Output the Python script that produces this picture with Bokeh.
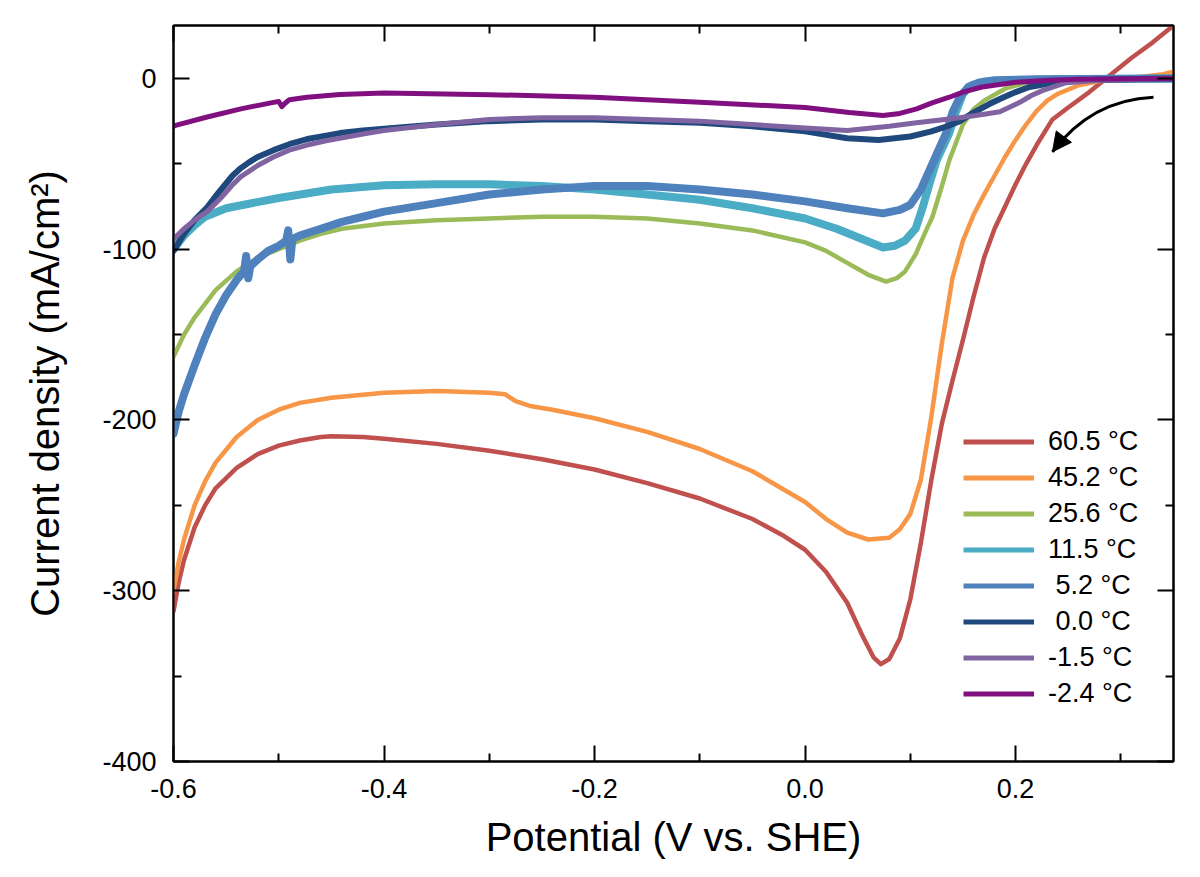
from bokeh.plotting import figure
from bokeh.models import (FixedTicker, PrintfTickFormatter, LinearAxis, Legend,
                          LegendItem, Range1d, Arrow, NormalHead)
from bokeh.embed import file_html
from bokeh.resources import INLINE

# ---------------- data ----------------
LABELS = ["60.5 °C", "45.2 °C", "25.6 °C", "11.5 °C",
          "\u00a05.2 °C", "\u00a00.0 °C", "-1.5 °C", "-2.4 °C"]
COLORS = ["#C0504D", "#F79646", "#9BBB59", "#4BACC6",
          "#4F81BD", "#1F497D", "#8064A2", "#80107F"]
WIDTHS = [4.5, 4.5, 4.5, 8, 8, 6, 5, 5]

T605_X = [-0.6, -0.595, -0.59, -0.58, -0.57, -0.56, -0.54, -0.52, -0.5, -0.48, -0.46, -0.45,
          -0.42, -0.4, -0.35, -0.3, -0.25, -0.2, -0.15, -0.1, -0.05, -0.02, 0.0, 0.02, 0.04,
          0.055, 0.065, 0.072, 0.08, 0.09, 0.1, 0.11, 0.12, 0.13, 0.14, 0.15, 0.16, 0.17,
          0.18, 0.19, 0.2, 0.21, 0.22, 0.235, 0.25, 0.27, 0.29, 0.31, 0.33, 0.35]
T605_Y = [-312, -295, -282, -263, -250, -240, -228, -220, -215, -212, -210, -209.5,
          -210, -211, -214, -218, -223, -229, -237, -246, -258, -268, -276, -289, -307,
          -327, -339, -343, -340, -328, -305, -272, -235, -202, -177, -153, -128, -105,
          -88, -75, -62, -50, -39, -24, -17, -8, 2, 12, 21, 31]

T452_X = [-0.6, -0.595, -0.59, -0.58, -0.57, -0.56, -0.54, -0.52, -0.5, -0.48, -0.45, -0.4,
          -0.35, -0.3, -0.285, -0.275, -0.26, -0.24, -0.2, -0.15, -0.1, -0.05, 0.0, 0.02,
          0.04, 0.06, 0.08, 0.09, 0.1, 0.11, 0.12, 0.13, 0.14, 0.15, 0.16, 0.17, 0.18,
          0.19, 0.2, 0.21, 0.22, 0.23, 0.24, 0.26, 0.28, 0.3, 0.32, 0.34, 0.35]
T452_Y = [-300, -283, -270, -250, -236, -225, -210, -200, -194, -190, -187, -184,
          -183, -184, -185, -189, -192, -194, -199, -207, -217, -230, -248, -258,
          -266, -270, -269, -264, -255, -235, -198, -155, -117, -95, -80, -68, -57,
          -46, -36, -27, -19, -13, -9, -4, -1.5, 0, 1, 2.5, 4]

T256_X = [-0.6, -0.59, -0.58, -0.56, -0.54, -0.52, -0.5, -0.48, -0.46, -0.44, -0.4, -0.35,
          -0.3, -0.25, -0.2, -0.15, -0.1, -0.05, 0.0, 0.02, 0.04, 0.06, 0.077, 0.087, 0.095,
          0.105, 0.115, 0.121, 0.13, 0.137, 0.145, 0.15, 0.16, 0.17, 0.19, 0.21, 0.24,
          0.28, 0.35]
T256_Y = [-163, -150, -140, -124, -113, -105, -100, -95, -91, -88, -85, -83,
          -82, -81, -81, -82, -85, -89, -96, -101, -108, -115, -119, -117, -113,
          -103, -89, -81, -63, -48, -35, -27, -18, -13, -6, -2.5, -1,
          -0.5, 0]

T115_X = [-0.6, -0.59, -0.58, -0.57, -0.55, -0.5, -0.45, -0.4, -0.35, -0.3, -0.25, -0.2,
          -0.15, -0.1, -0.05, 0.0, 0.03, 0.05, 0.074, 0.085, 0.095, 0.105, 0.112, 0.118,
          0.125, 0.131, 0.137, 0.143, 0.15, 0.158, 0.169, 0.2, 0.25, 0.35]
T115_Y = [-100, -92, -86, -81, -76, -70, -65, -62.5, -62, -62, -63, -65,
          -68, -71, -76, -82, -88, -93, -99, -98, -95, -88, -75, -62,
          -48, -40, -32, -20, -9, -4, -2, -1, -0.5, 0]

T52_X = [-0.6, -0.595, -0.59, -0.58, -0.57, -0.56, -0.55, -0.54, -0.533, -0.531, -0.529,
         -0.527, -0.52, -0.51, -0.5, -0.493, -0.491, -0.489, -0.487, -0.48, -0.46, -0.44,
         -0.42, -0.4, -0.35, -0.3, -0.25, -0.2, -0.15, -0.1, -0.05, 0.0, 0.04, 0.074,
         0.09, 0.1, 0.11, 0.118, 0.126, 0.134, 0.14, 0.147, 0.155, 0.165, 0.18, 0.22, 0.35]
T52_Y = [-208, -195, -185, -168, -152, -138, -127, -118, -113, -104, -117,
         -110, -106, -101, -98, -95, -89, -106, -94, -92, -88, -84,
         -81, -78, -73, -68, -65, -63, -63, -65, -68, -72, -76, -79,
         -77, -74, -65, -54, -43, -32, -20, -11, -5, -2.5, -1, -0.5, 0]

T00_X = [-0.6, -0.59, -0.58, -0.568, -0.56, -0.552, -0.544, -0.536, -0.528, -0.52, -0.505,
         -0.49, -0.473, -0.455, -0.442, -0.42, -0.4, -0.35, -0.3, -0.25, -0.2, -0.15, -0.1,
         -0.05, 0.0, 0.04, 0.07, 0.1, 0.12, 0.135, 0.147, 0.16, 0.175, 0.185, 0.2, 0.213,
         0.232, 0.26, 0.3, 0.35]
T00_Y = [-101, -91, -83, -75.5, -69, -63, -57, -52.5, -49, -46, -42,
         -38.5, -35.5, -33.5, -32, -30.5, -29.5, -27, -25, -24, -24, -25, -26,
         -28, -31, -35, -36, -34, -31, -28, -25, -20, -15, -12, -8, -5,
         -3, -1, -0.5, 0]

T15_X = [-0.6, -0.59, -0.58, -0.568, -0.555, -0.545, -0.536, -0.52, -0.505, -0.49, -0.473,
         -0.455, -0.442, -0.42, -0.4, -0.35, -0.3, -0.25, -0.2, -0.15, -0.1, -0.05, 0.0,
         0.04, 0.08, 0.106, 0.147, 0.17, 0.185, 0.204, 0.215, 0.226, 0.248, 0.28, 0.35]
T15_Y = [-94, -88, -83, -78, -70, -63, -57.5, -51, -46, -42, -39,
         -36.5, -35, -32.5, -30.5, -27, -24, -23, -23, -24, -25, -27, -29,
         -30.5, -28, -26, -23, -21, -19.5, -14, -10, -7, -2.5, -1, 0]

T24_X = [-0.6, -0.598, -0.568, -0.536, -0.505, -0.5, -0.497, -0.494, -0.49, -0.473, -0.442,
         -0.4, -0.3, -0.2, -0.1, 0.0, 0.042, 0.074, 0.09, 0.106, 0.12, 0.137, 0.15, 0.168,
         0.2, 0.232, 0.26, 0.35]
T24_Y = [-28, -27.5, -22.6, -17.8, -14, -13.5, -16.5, -14.5, -12.5, -11, -9.4,
         -8.5, -9.5, -11, -14, -17, -20, -21.7, -20.5, -17.8, -14.5, -11, -8, -5,
         -2.2, -1, -0.5, 0]

SERIES_X = [T605_X, T452_X, T256_X, T115_X, T52_X, T00_X, T15_X, T24_X]
SERIES_Y = [T605_Y, T452_Y, T256_Y, T115_Y, T52_Y, T00_Y, T15_Y, T24_Y]

X_TICKS = [-0.6, -0.4, -0.2, 0.0, 0.2]
X_MINOR = [-0.5, -0.3, -0.1, 0.1, 0.3]
Y_TICKS = [-400, -300, -200, -100, 0]
Y_MINOR = [-350, -250, -150, -50]

# scan-direction arrow (start, end, control point) in data units
ARROW_START = (0.331, -11.0)
ARROW_END = (0.235, -43.0)
ARROW_CTRL = (0.272, -12.6)

FONT = "Liberation Sans"

p = figure(width=1192, height=869, x_range=Range1d(-0.6, 0.35), y_range=Range1d(-400, 31),
           output_backend="svg", toolbar_location=None,
           min_border_left=173, min_border_right=19, min_border_top=25, min_border_bottom=108)
p.xgrid.visible = False
p.ygrid.visible = False
p.outline_line_color = "black"
p.outline_line_width = 2
p.background_fill_color = "white"
p.border_fill_color = "white"

renderers = []
for xs, ys, c, w in zip(SERIES_X, SERIES_Y, COLORS, WIDTHS):
    p.line(xs, ys, line_color=c, line_width=w, line_join="round", line_cap="round")
    proxy = p.line(xs, ys, line_color=c, line_width=5, visible=False)
    renderers.append(proxy)

# arrow
p.quadratic(x0=[ARROW_START[0]], y0=[ARROW_START[1]], x1=[ARROW_END[0]], y1=[ARROW_END[1]],
            cx=[ARROW_CTRL[0]], cy=[ARROW_CTRL[1]], line_color="black", line_width=3)
hx = ARROW_END[0] - 0.25 * (ARROW_END[0] - ARROW_CTRL[0])
hy = ARROW_END[1] - 0.25 * (ARROW_END[1] - ARROW_CTRL[1])
p.add_layout(Arrow(x_start=hx, y_start=hy, x_end=ARROW_END[0], y_end=ARROW_END[1],
                   line_color="black", line_width=3,
                   end=NormalHead(size=19, fill_color="black", line_color="black")))

def style_axis(ax, ticks, minor, fmt, labels=True):
    ax.ticker = FixedTicker(ticks=ticks, minor_ticks=minor)
    ax.formatter = PrintfTickFormatter(format=fmt)
    ax.axis_line_width = 2
    ax.axis_line_color = "black"
    ax.major_tick_line_color = "black"
    ax.minor_tick_line_color = "black"
    ax.major_tick_line_width = 2
    ax.minor_tick_line_width = 2
    ax.major_tick_in = 16
    ax.major_tick_out = 0
    ax.minor_tick_in = 8
    ax.minor_tick_out = 0
    ax.major_label_text_font = FONT
    if labels:
        ax.major_label_text_font_size = "27px"
        ax.major_label_text_color = "black"
        ax.major_label_standoff = 17
        ax.axis_label_text_font = FONT
        ax.axis_label_text_font_size = "40px"
        ax.axis_label_text_font_style = "normal"
        ax.axis_label_text_color = "black"
    else:
        ax.major_label_text_font_size = "1px"
        ax.major_label_text_color = None
        ax.major_label_standoff = 0

style_axis(p.xaxis[0], X_TICKS, X_MINOR, "%.1f")
style_axis(p.yaxis[0], Y_TICKS, Y_MINOR, "%d")
p.xaxis[0].axis_label = "Potential (V vs. SHE)"
p.yaxis[0].axis_label = "Current density (mA/cm²)"
p.xaxis[0].axis_label_standoff = 14
p.yaxis[0].axis_label_standoff = 32

top = LinearAxis()
style_axis(top, X_TICKS, X_MINOR, "%.1f", labels=False)
p.add_layout(top, "above")
right = LinearAxis()
style_axis(right, Y_TICKS, Y_MINOR, "%d", labels=False)
p.add_layout(right, "right")

legend = Legend(items=[LegendItem(label=l, renderers=[r]) for l, r in zip(LABELS, renderers)],
                location=(790, 52), glyph_width=71, glyph_height=31, label_height=31,
                spacing=5, padding=0, margin=0, label_standoff=14,
                label_text_font=FONT, label_text_font_size="27px", label_text_color="black",
                border_line_alpha=0, background_fill_alpha=0)
p.add_layout(legend)

open("out.html", "w").write(file_html(p, INLINE))
